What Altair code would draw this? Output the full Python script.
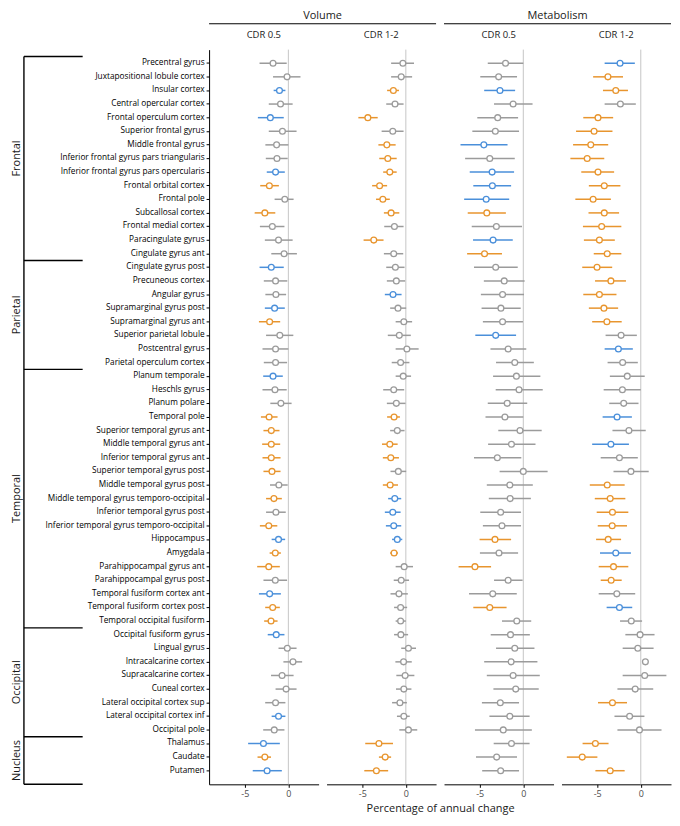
import altair as alt
import pandas as pd

regions = [
    "Precentral gyrus", "Juxtapositional lobule cortex", "Insular cortex", "Central opercular cortex",
    "Frontal operculum cortex", "Superior frontal gyrus", "Middle frontal gyrus",
    "Inferior frontal gyrus pars triangularis", "Inferior frontal gyrus pars opercularis",
    "Frontal orbital cortex", "Frontal pole", "Subcallosal cortex", "Frontal medial cortex",
    "Paracingulate gyrus", "Cingulate gyrus ant",
    "Cingulate gyrus post", "Precuneous cortex", "Angular gyrus", "Supramarginal gyrus post",
    "Supramarginal gyrus ant", "Superior parietal lobule", "Postcentral gyrus", "Parietal operculum cortex",
    "Planum temporale", "Heschls gyrus", "Planum polare", "Temporal pole", "Superior temporal gyrus ant",
    "Middle temporal gyrus ant", "Inferior temporal gyrus ant", "Superior temporal gyrus post",
    "Middle temporal gyrus post", "Middle temporal gyrus temporo-occipital", "Inferior temporal gyrus post",
    "Inferior temporal gyrus temporo-occipital", "Hippocampus", "Amygdala", "Parahippocampal gyrus ant",
    "Parahippocampal gyrus post", "Temporal fusiform cortex ant", "Temporal fusiform cortex post",
    "Temporal occipital fusiform",
    "Occipital fusiform gyrus", "Lingual gyrus", "Intracalcarine cortex", "Supracalcarine cortex",
    "Cuneal cortex", "Lateral occipital cortex sup", "Lateral occipital cortex inf", "Occipital pole",
    "Thalamus", "Caudate", "Putamen",
]
group_names = ["Frontal", "Parietal", "Temporal", "Occipital", "Nucleus"]
group_sizes = [15, 8, 19, 8, 3]

vol05_c = [-1.76, -0.15, -1.02, -0.90, -2.07, -0.68, -1.35, -1.31, -1.47, -2.18, -0.41, -2.70, -1.84, -1.13, -0.49,
           -1.96, -1.47, -1.43, -1.58, -2.15, -0.98, -1.47, -1.47,
           -1.76, -1.54, -0.86, -2.21, -1.96, -1.96, -1.96, -1.88, -1.09, -1.66, -1.43, -2.25, -1.13, -1.50, -2.25,
           -1.50, -2.15, -1.80, -1.99,
           -1.39, -0.12, 0.53, -0.72, -0.26, -1.47, -1.13, -1.62,
           -2.86, -2.70, -2.44]
vol05_lo = [-3.31, -1.76, -1.69, -2.25, -3.50, -2.25, -2.64, -2.59, -2.48, -3.23, -1.58, -3.87, -3.27, -2.70, -1.96,
            -3.31, -2.82, -2.64, -2.70, -3.38, -2.56, -2.97, -2.82,
            -2.89, -2.97, -2.07, -3.15, -2.86, -3.01, -2.97, -2.86, -2.11, -2.56, -2.56, -3.27, -1.92, -2.15, -3.58,
            -2.86, -3.38, -2.66, -2.78,
            -2.37, -1.13, -0.57, -1.99, -1.47, -2.66, -1.92, -2.89,
            -4.62, -3.54, -4.09]
vol05_hi = [-0.19, 1.39, -0.34, 0.49, -0.53, 0.94, 0.00, -0.08, -0.41, -1.09, 0.60, -1.50, -0.45, 0.49, 0.98,
            -0.53, -0.12, -0.26, -0.41, -0.94, 0.57, 0.00, -0.15,
            -0.64, -0.19, 0.37, -1.24, -1.02, -0.94, -0.90, -0.90, -0.08, -0.75, -0.30, -1.27, -0.37, -0.86, -0.98,
            -0.15, -0.86, -0.98, -1.24,
            -0.45, 0.94, 1.58, 0.60, 0.94, -0.34, -0.34, -0.45,
            -0.98, -1.99, -0.75]
vol05_col = list("gg" "b" "g" "b" "ggg" "b" "o" "g" "o" "ggg"
                 "b" "gg" "b" "o" "ggg"
                 "b" "gg" "ooooo" "g" "o" "g" "o" "b" "oo" "g" "b" "oo"
                 "b" "ggggg" "b" "g"
                 "bob")

vol12_c = [-0.34, -0.53, -1.43, -1.24, -4.36, -1.50, -2.18, -2.07, -1.84, -3.01, -2.64, -1.69, -1.31, -3.68, -1.39,
           -1.20, -1.09, -1.47, -0.90, -0.23, -0.75, 0.12, -0.60,
           -0.30, -1.39, -1.09, -1.35, -0.98, -1.84, -1.73, -0.86, -1.80, -1.27, -1.50, -1.39, -0.98, -1.35, -0.19,
           -0.53, -0.79, -0.60, -0.60,
           -0.57, 0.30, -0.26, -0.08, -0.23, -0.68, -0.23, 0.30,
           -3.09, -2.37, -3.38]
vol12_lo = [-1.69, -1.69, -2.15, -2.25, -5.45, -2.78, -3.15, -3.05, -2.60, -3.87, -3.42, -2.52, -2.48, -4.85, -2.52,
            -2.25, -2.18, -2.41, -1.80, -1.17, -2.07, -1.17, -1.62,
            -1.17, -2.60, -2.18, -2.15, -1.80, -2.74, -2.64, -1.76, -2.64, -2.03, -2.41, -2.29, -1.58, -1.80, -1.17,
            -1.39, -1.76, -1.35, -1.17,
            -1.35, -0.53, -1.20, -1.09, -1.13, -1.58, -1.02, -0.75,
            -4.66, -3.09, -4.77]
vol12_hi = [0.94, 0.72, -0.79, -0.26, -3.23, -0.26, -1.17, -1.05, -1.05, -2.15, -1.84, -0.75, -0.26, -2.56, -0.30,
            -0.15, -0.08, -0.49, 0.04, 0.72, 0.57, 1.47, 0.41,
            0.60, -0.19, -0.04, -0.68, -0.15, -0.94, -0.79, 0.04, -0.90, -0.53, -0.60, -0.53, -0.41, -0.90, 0.82,
            0.37, 0.23, 0.15, 0.00,
            0.26, 1.17, 0.68, 0.98, 0.64, 0.12, 0.45, 1.31,
            -1.47, -1.69, -2.03]
vol12_col = list("gg" "o" "g" "o" "g" "oooooo" "g" "o" "g"
                 "gg" "b" "ggggg"
                 "ggg" "o" "g" "oo" "g" "o" "bbbb" "o" "ggggg"
                 "gggggggg"
                 "ooo")

met05_c = [-2.04, -2.83, -2.68, -1.17, -2.94, -3.21, -4.53, -3.85, -3.58, -3.55, -4.26, -4.19, -3.09, -3.47, -4.45,
           -3.17, -2.19, -2.38, -2.57, -2.38, -3.17, -1.74, -0.98,
           -0.79, -0.49, -1.85, -2.11, -0.38, -1.36, -2.98, 0.00, -1.55, -1.51, -2.60, -2.45, -3.25, -2.79, -5.55,
           -1.74, -3.51, -3.85, -0.75,
           -1.47, -0.98, -1.40, -1.17, -0.87, -2.64, -1.55, -2.30,
           -1.36, -3.06, -2.60]
met05_lo = [-4.08, -4.94, -4.49, -3.36, -5.28, -5.85, -7.21, -6.68, -6.15, -5.74, -6.79, -6.38, -5.92, -5.77, -6.45,
            -5.66, -4.53, -4.87, -4.79, -4.64, -5.51, -3.77, -3.13,
            -3.47, -3.17, -4.08, -4.34, -2.87, -4.04, -5.66, -2.72, -4.19, -3.96, -4.94, -4.64, -5.02, -4.98, -7.43,
            -3.36, -6.23, -5.74, -2.45,
            -3.74, -3.13, -4.49, -4.19, -3.43, -4.75, -3.89, -5.55,
            -3.40, -5.43, -4.72]
met05_hi = [0.00, -0.72, -0.94, 1.06, -0.60, -0.49, -1.81, -0.98, -1.06, -1.40, -1.62, -2.00, -0.15, -1.21, -2.45,
            -0.64, 0.15, 0.08, -0.30, -0.04, -0.83, 0.34, 1.21,
            1.96, 2.23, 0.45, 0.00, 2.11, 1.40, -0.23, 2.79, 1.09, 0.87, -0.26, -0.26, -1.40, -0.60, -3.70,
            -0.08, -0.75, -1.92, 0.91,
            0.75, 1.28, 1.62, 1.89, 1.77, -0.49, 0.72, 0.98,
            0.72, -0.72, -0.49]
met05_col = list("gg" "b" "ggg" "b" "g" "bbb" "o" "g" "b" "o"
                 "ggggg" "b" "gg"
                 "gggggggggggg" "o" "g" "o" "gg" "o" "g"
                 "gggggggg"
                 "ggg")

met12_c = [-2.38, -3.77, -2.87, -2.34, -4.91, -5.36, -5.74, -6.15, -4.91, -4.19, -5.47, -4.19, -4.49, -4.75, -3.85,
           -5.02, -3.43, -4.75, -4.23, -3.89, -2.26, -2.57, -2.08,
           -1.55, -2.11, -1.96, -2.72, -1.36, -3.43, -2.45, -1.13, -3.85, -3.51, -3.25, -3.28, -3.74, -2.87, -3.13,
           -3.40, -2.75, -2.45, -1.09,
           -0.08, -0.34, 0.53, 0.45, -0.64, -3.25, -1.28, -0.15,
           -5.21, -6.72, -3.51]
met12_lo = [-4.15, -5.47, -4.34, -4.15, -6.60, -7.43, -7.77, -8.08, -6.83, -5.96, -7.51, -6.00, -6.64, -6.53, -5.40,
            -6.72, -5.25, -6.60, -5.96, -5.58, -4.04, -4.15, -3.81,
            -3.55, -4.26, -3.62, -4.38, -3.25, -5.58, -4.60, -3.13, -5.85, -5.28, -5.06, -4.94, -5.13, -4.68, -4.83,
            -4.60, -4.83, -3.92, -2.38,
            -1.77, -2.08, 0.45, -2.08, -2.68, -4.91, -3.02, -2.68,
            -6.68, -8.49, -5.21]
met12_hi = [-0.68, -2.04, -1.47, -0.57, -3.17, -3.25, -3.74, -4.19, -3.06, -2.34, -3.43, -2.49, -2.23, -2.98, -2.23,
            -3.28, -1.70, -2.79, -2.60, -2.19, -0.45, -0.91, -0.34,
            0.45, 0.00, -0.26, -1.02, 0.57, -1.36, -0.34, 0.91, -1.85, -1.77, -1.43, -1.58, -2.26, -1.13, -1.43,
            -2.19, -0.64, -0.98, 0.15,
            1.58, 1.47, 0.60, 2.94, 1.43, -1.58, 0.42, 2.38,
            -3.70, -4.98, -1.85]
met12_col = list("b" "oo" "g" "ooooooooooo"
                 "ooooo" "gbg"
                 "ggg" "bgb" "gg" "ooooo" "b" "oo" "gbg"
                 "ggggg" "o" "gg"
                 "ooo")

N = len(regions)
for arr in (vol05_c, vol05_lo, vol05_hi, vol05_col, vol12_c, vol12_lo, vol12_hi, vol12_col,
            met05_c, met05_lo, met05_hi, met05_col, met12_c, met12_lo, met12_hi, met12_col):
    assert len(arr) == N, len(arr)

W, H, GAP = 110, 738, 8
XDOM = [-9.1, 3.47]

col_scale = alt.Scale(domain=["g", "b", "o"], range=["#9b9b9b", "#4a8fda", "#e8952e"])
xscale = alt.Scale(domain=XDOM, nice=False, zero=False)
FONT = "Open Sans"


def xaxis(title=None):
    kw = dict(values=[-5, 0], grid=False, domainColor="#000000", tickColor="#000000",
              tickSize=3, labelFontSize=9, labelColor="#4d4d4d", labelPadding=2, labelFont=FONT,
              labelExpr="'' + datum.value", domainWidth=1)
    if title:
        kw.update(title=title, titleX=-GAP / 2, titleY=24, titleAlign="center", titleBaseline="middle",
                  titleFontSize=11, titleFontWeight="normal", titleColor="#1a1a1a", titleFont=FONT)
    else:
        kw.update(title=None)
    return alt.Axis(**kw)


def yaxis(first):
    if not first:
        return None
    return alt.Axis(title=None, grid=False, domain=True, domainColor="#000000", tickColor="#000000", tickSize=3,
                    labelFontSize=8.3, labelColor="#000000", labelPadding=2, labelFont=FONT, labelLimit=300)


def txt(s, x, y, size, dx=0):
    return alt.Chart(pd.DataFrame({"t": [s]})).mark_text(
        fontSize=size, font=FONT, color="#1a1a1a", dx=dx).encode(
        text="t:N", x=alt.value(x), y=alt.value(y))


def hline(x1, x2, y):
    return alt.Chart(pd.DataFrame({"a": [0]})).mark_rule(color="#000000", strokeWidth=1).encode(
        x=alt.value(x1), x2=alt.value(x2), y=alt.value(y), y2=alt.value(y))


def panel(c, lo, hi, col, strip, first=False, xtitle=None, extras=()):
    df = pd.DataFrame({"region": regions, "c": c, "lo": lo, "hi": hi, "col": col})
    base = alt.Chart(df)
    ya = yaxis(first)
    xa = xaxis(xtitle)
    yenc = alt.Y("region:N", sort=regions, scale=alt.Scale(padding=1), axis=ya)
    zero = alt.Chart(pd.DataFrame({"z": [0]})).mark_rule(color="#c6c6c6", strokeWidth=1).encode(
        x=alt.X("z:Q", scale=xscale, axis=xa), y=alt.value(0), y2=alt.value(H))
    bars = base.mark_rule(strokeWidth=1.5).encode(
        x=alt.X("lo:Q", scale=xscale, axis=xa), x2="hi:Q", y=yenc,
        color=alt.Color("col:N", scale=col_scale, legend=None))
    pts = base.mark_point(shape="circle", filled=False, fill="white", size=34, strokeWidth=1.3, opacity=1).encode(
        x=alt.X("c:Q", scale=xscale, axis=xa), y=yenc,
        color=alt.Color("col:N", scale=col_scale, legend=None))
    strip_t = txt(strip, W / 2, -15, 9.5)
    return alt.layer(zero, bars, pts, strip_t, *extras)


bounds = [0.5]
acc = 0
for s in group_sizes:
    acc += s
    bounds.append(acc + 0.5)
bounds[-1] = N + 1
mids = [(bounds[i] + bounds[i + 1]) / 2 for i in range(len(group_names))]
bscale = alt.Scale(domain=[0, N + 1], reverse=True, nice=False, zero=False)
hl = alt.Chart(pd.DataFrame({"pos": bounds})).mark_rule(color="#000000", strokeWidth=1.4).encode(
    y=alt.Y("pos:Q", scale=bscale, axis=None), x=alt.value(-186), x2=alt.value(-127))
vl = alt.Chart(pd.DataFrame({"top": [bounds[0]], "bot": [bounds[-1]]})).mark_rule(
    color="#000000", strokeWidth=1.4).encode(
    y=alt.Y("top:Q", scale=bscale, axis=None), y2="bot:Q", x=alt.value(-186))
gt = alt.Chart(pd.DataFrame({"g": group_names, "m": mids})).mark_text(
    angle=270, fontSize=11, font=FONT, color="#1a1a1a").encode(
    y=alt.Y("m:Q", scale=bscale, axis=None), x=alt.value(-193), text="g:N")

p1_data = panel(vol05_c, vol05_lo, vol05_hi, vol05_col, "CDR 0.5", first=True,
                extras=(txt("Volume", W, -34, 11, dx=GAP / 2), hline(0, 2 * W + GAP, -26)))
p1 = alt.layer(p1_data, alt.layer(hl, vl, gt)).resolve_scale(y="independent").properties(width=W, height=H)
p2 = panel(vol12_c, vol12_lo, vol12_hi, vol12_col, "CDR 1-2").properties(width=W, height=H)
p3 = panel(met05_c, met05_lo, met05_hi, met05_col, "CDR 0.5", xtitle="Percentage of annual change",
           extras=(txt("Metabolism", W, -34, 11, dx=GAP / 2), hline(0, 2 * W + GAP, -26))).properties(
    width=W, height=H)
p4 = panel(met12_c, met12_lo, met12_hi, met12_col, "CDR 1-2").properties(width=W, height=H)

chart = alt.HConcatChart(hconcat=[p1, p2, p3, p4], spacing=GAP, bounds="flush",
                         padding={"left": 3, "top": 0, "right": 0, "bottom": 0}).configure(
    font=FONT, background="white").configure_view(
    strokeWidth=0, stroke="transparent").configure_axis(grid=False)

chart.save("out.html", embed_options={"renderer": "svg", "actions": False})
